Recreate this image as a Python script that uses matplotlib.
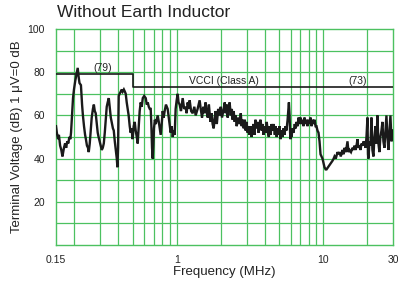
import matplotlib
matplotlib.use("Agg")
import matplotlib.pyplot as plt
from matplotlib.ticker import FixedLocator, NullFormatter, NullLocator

plt.rcParams['font.family'] = ['Liberation Sans', 'DejaVu Sans']

# ---- data ----
freq_mhz = [
    0.150, 0.152, 0.155, 0.157, 0.160, 0.163, 0.166, 0.168, 0.170, 0.173,
    0.176, 0.179, 0.182, 0.185, 0.188, 0.190, 0.193, 0.196, 0.199, 0.203,
    0.207, 0.211, 0.214, 0.217, 0.222, 0.226, 0.229, 0.233, 0.237, 0.240,
    0.244, 0.248, 0.251, 0.255, 0.259, 0.263, 0.268, 0.272, 0.276, 0.280,
    0.284, 0.289, 0.293, 0.298, 0.303, 0.308, 0.313, 0.318, 0.323, 0.328,
    0.333, 0.338, 0.344, 0.349, 0.355, 0.362, 0.367, 0.372, 0.378, 0.384,
    0.390, 0.394, 0.398, 0.402, 0.408, 0.415, 0.422, 0.428, 0.436, 0.443,
    0.449, 0.456, 0.463,
    0.470, 0.478, 0.485, 0.492, 0.500, 0.509, 0.517, 0.525, 0.534, 0.542,
    0.550, 0.559, 0.568, 0.577, 0.587, 0.600, 0.615, 0.625, 0.635, 0.645,
    0.655, 0.665, 0.672, 0.679, 0.686, 0.693, 0.700, 0.710, 0.720, 0.742,
    0.755, 0.766, 0.778, 0.790, 0.803, 0.815, 0.828, 0.845, 0.868, 0.890,
    0.910, 0.925, 0.940, 0.955, 0.969, 0.984, 1.000, 1.016, 1.030, 1.048,
    1.070, 1.099, 1.125, 1.152, 1.170, 1.189, 1.208, 1.227, 1.255, 1.286,
    1.320, 1.348, 1.390, 1.435,
    1.46, 1.49, 1.52, 1.55, 1.574, 1.60, 1.63, 1.66, 1.679, 1.70,
    1.73, 1.76, 1.79, 1.82, 1.845, 1.88, 1.92, 1.965, 2.00, 2.04,
    2.094, 2.13, 2.16, 2.195, 2.23, 2.26, 2.30, 2.34, 2.38, 2.41,
    2.45, 2.49, 2.526, 2.57, 2.62, 2.69, 2.74, 2.78, 2.82, 2.87,
    2.92, 2.956, 3.00, 3.05, 3.10, 3.147, 3.20, 3.25, 3.30, 3.35,
    3.40, 3.45, 3.51, 3.57, 3.62, 3.68, 3.74, 3.80, 3.86, 3.92,
    3.98, 4.05, 4.12, 4.20, 4.26, 4.31, 4.38, 4.45, 4.52, 4.60,
    4.68, 4.74, 4.82, 4.90, 4.96, 5.04, 5.12, 5.20, 5.28, 5.36,
    5.45, 5.54, 5.62, 5.72, 5.80, 5.84, 5.90, 5.95, 5.99, 6.04,
    6.09, 6.18, 6.28, 6.40, 6.50, 6.59, 6.70, 6.80, 6.90, 7.00,
    7.12, 7.24, 7.35, 7.46, 7.59, 7.70, 7.82, 7.95, 8.08, 8.20,
    8.34, 8.46, 8.60, 8.74, 8.88, 9.01, 9.15, 9.30, 9.45, 9.60,
    9.75, 9.90, 10.06, 10.22, 10.40, 10.55, 10.80, 11.06, 11.30, 11.59,
    11.80, 11.96, 12.2, 12.54, 12.75, 12.94, 13.2, 13.56, 13.8, 13.99,
    14.3, 14.67, 14.9, 15.14, 15.5, 15.87, 16.1, 16.37, 16.7, 17.0,
    17.16, 17.4, 17.71, 18.0, 18.3, 18.56, 18.9, 19.16, 19.5, 19.77,
    20.08, 20.25, 20.40, 20.72, 21.05, 21.38, 21.7, 22.06, 22.4, 22.77,
    23.1, 23.49, 23.85, 24.24, 24.6, 25.02, 25.41, 25.8, 26.22, 26.6,
    27.06, 27.5, 27.92, 28.4, 28.81, 29.3, 29.9,
]
level_db = [
    55, 52, 49, 51, 46, 44, 41, 43, 45, 47,
    45, 48, 47, 50, 49, 52, 60, 68, 72, 76,
    79, 82, 78, 75, 74, 65, 60, 55, 51, 49,
    46, 45, 43, 47, 53, 59, 63, 65, 62, 61,
    57, 52, 50, 48, 46, 44, 45, 47, 52, 58,
    64, 66, 68, 64, 59, 56, 54, 53, 48, 44,
    40, 36, 45, 69, 70, 71, 72, 71, 72, 71,
    70, 66, 63,
    60, 55, 52, 54, 49, 55, 57, 53, 50, 47,
    54, 62, 66, 64, 68, 69, 68, 65, 66, 64,
    63, 63, 55, 45, 40, 46, 54, 58, 56, 60,
    57, 54, 51, 56, 62, 59, 62, 65, 63, 57,
    52, 55, 50, 53, 51, 63, 67, 70, 66, 65,
    62, 68, 63, 64, 61, 66, 63, 67, 62, 61,
    64, 60, 63, 67,
    63, 59, 64, 61, 66, 62, 59, 65, 61, 57,
    61, 56, 54, 59, 62, 56, 63, 60, 64, 59,
    63, 66, 61, 65, 59, 64, 66, 60, 63, 58,
    62, 57, 60, 55, 59, 56, 61, 55, 58, 54,
    58, 53, 57, 52, 55, 51, 55, 50, 54, 56,
    51, 58, 54, 57, 52, 56, 58, 53, 56, 51,
    55, 52, 57, 52, 50, 55, 51, 56, 53, 56,
    51, 55, 50, 54, 51, 55, 49, 53, 50, 54,
    51, 55, 53, 58, 63, 66, 60, 52, 49, 53,
    50, 54, 52, 56, 54, 57, 55, 59, 56, 59,
    56, 58, 55, 59, 56, 58, 55, 58, 56, 59,
    55, 58, 56, 58, 55, 55, 53, 52, 48, 42,
    41, 40, 38, 36, 35, 35, 36, 37, 38, 39,
    40, 41, 40, 43, 42, 43, 41, 44, 42, 45,
    43, 48, 43, 44, 43, 45, 44, 46, 44, 47,
    49, 45, 46, 44, 47, 46, 48, 47, 45, 50,
    59, 42, 40, 48, 46, 59, 44, 41, 50, 55,
    47, 60, 47, 43, 50, 53, 57, 48, 45, 52,
    60, 50, 44, 53, 60, 48, 53,
]

limit_freq = [0.15, 0.5, 0.5, 30]
limit_db = [79, 79, 73, 73]

x_ticks = [0.15, 1, 10, 30]
x_ticklabels = ["0.15", "1", "10", "30"]
y_ticks = [20, 40, 60, 80, 100]
y_ticklabels = ["20", "40", "60", "80", "100"]
x_grid = [0.2, 0.3, 0.4, 0.5, 0.6, 0.7, 0.8, 0.9, 1,
          2, 3, 4, 5, 6, 7, 8, 9, 10, 20]

# ---- figure ----
fig = plt.figure(figsize=(3.98, 2.87), dpi=100)
ax = fig.add_axes([56 / 398, 42 / 287, 337 / 398, 216 / 287])

green = '#4cc160'
ax.set_xscale('log')
ax.set_xlim(0.15, 30)
ax.set_ylim(0, 100)

for g in x_grid:
    ax.axvline(g, color=green, lw=0.9, zorder=1)
for g in range(10, 100, 10):
    ax.axhline(g, color=green, lw=0.9, zorder=1)

ax.plot(limit_freq, limit_db, color='#1a1a1a', lw=1.2, zorder=3)
ax.plot(freq_mhz, level_db, color='#1a1a1a', lw=1.7, zorder=4,
        solid_joinstyle='miter')

ax.text(0.313, 79.6, "(79)", ha='center', va='bottom', fontsize=7.5,
        color='#222222')
ax.text(2.1, 73.6, "VCCI (Class A)", ha='center', va='bottom', fontsize=7.5,
        color='#222222')
ax.text(17.1, 73.6, "(73)", ha='center', va='bottom', fontsize=7.5,
        color='#222222')

ax.xaxis.set_major_locator(FixedLocator(x_ticks))
ax.set_xticklabels(x_ticklabels)
ax.xaxis.set_minor_locator(NullLocator())
ax.xaxis.set_minor_formatter(NullFormatter())
ax.set_yticks(y_ticks)
ax.set_yticklabels(y_ticklabels)
ax.tick_params(axis='both', length=0, labelsize=7.5, colors='#222222')
ax.tick_params(axis='x', pad=7)
ax.tick_params(axis='y', pad=8)

for s in ax.spines.values():
    s.set_color(green)
    s.set_linewidth(1.0)

ax.set_xlabel("Frequency (MHz)", fontsize=9.5, color='#222222', labelpad=1)
ax.set_ylabel("Terminal Voltage (dB) 1 \u03bcV=0 dB", fontsize=9.5,
              color='#222222', labelpad=3)

fig.text(57 / 398, 1 - 17 / 287, "Without Earth Inductor", fontsize=12.5,
         color='#222222', ha='left', va='baseline')

fig.savefig("out.png", dpi=100)
